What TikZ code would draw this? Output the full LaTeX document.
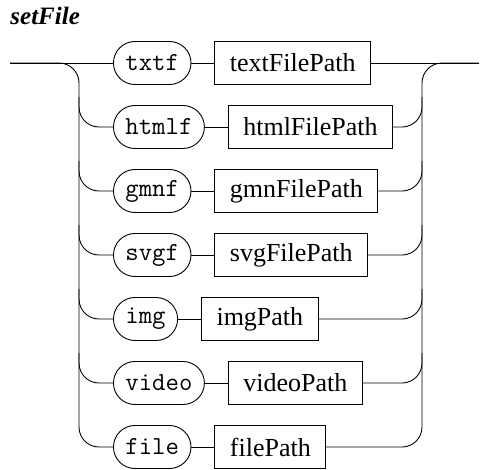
\documentclass[tikz,border=0pt]{standalone}
\usepackage{fontspec}
\setmainfont{Liberation Serif}
\begin{document}
\begin{tikzpicture}[x=1pt,y=-1pt,line width=0.9pt,
  term/.style={draw, rounded corners=21.5pt, minimum height=43pt, inner xsep=12pt, inner ysep=0pt,
    font=\fontsize{26}{30}\selectfont\ttfamily, anchor=west},
  nterm/.style={draw, minimum height=43pt, inner xsep=15pt, inner ysep=0pt,
    font=\fontsize{26}{30}\selectfont, anchor=west},
  rail/.style={rounded corners=20pt}]
\useasboundingbox (0,0) rectangle (489,469);
\node[anchor=base west, inner sep=0pt, font=\fontsize{25}{30}\selectfont\bfseries\itshape] (title) at (10,24) {setFile};

\coordinate (s) at (10,63);
\coordinate (e) at (479,63);

\foreach \i/\t/\n in {1/txtf/textFilePath,2/htmlf/htmlFilePath,3/gmnf/gmnFilePath,4/svgf/svgFilePath,5/img/imgPath,6/video/videoPath,7/file/filePath}{
  \node[term] (t\i) at (113,{63+64*(\i-1)}) {\t};
  \node[nterm] (n\i) at ([xshift=23pt]t\i.east) {\n};
  \draw (t\i) -- (n\i);
}
\foreach \i in {2,...,6}{
  \draw[rail] (79,{63+64*(\i-1)-30}) -- (79,{63+64*(\i-1)}) -- (t\i.west);
  \draw[rail] (n\i.east) -- (422,{63+64*(\i-1)}) -- (422,{63+64*(\i-1)-30});
}
\draw (s) -- (t1.west);
\draw (n1.east) -- (e);
\draw[rail] (s) -- (79,63) -- (79,447) -- (t7.west);
\draw[rail] (n7.east) -- (422,447) -- (422,63) -- (e);
\end{tikzpicture}
\end{document}
